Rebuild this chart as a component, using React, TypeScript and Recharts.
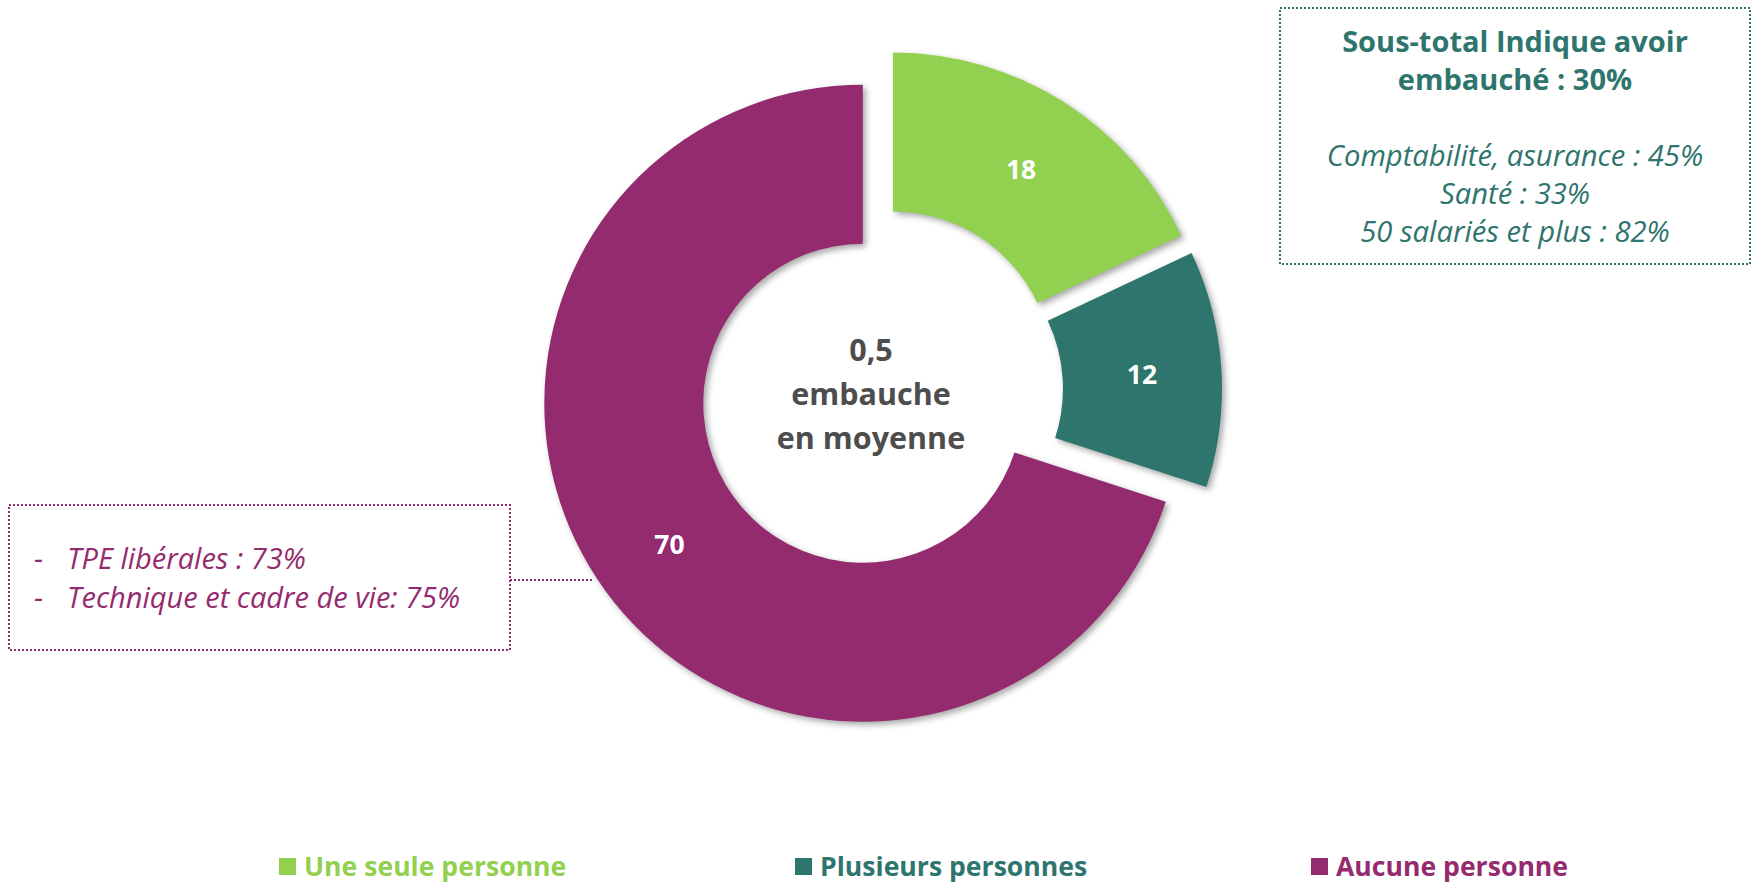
import React from 'react';
import { PieChart, Pie, Cell, Sector, Legend } from 'recharts';

const categories = ['Une seule personne', 'Plusieurs personnes', 'Aucune personne'];
const values = [18, 12, 70];
const colors = ['#92D050', '#2E756D', '#952B6F'];
const centerLines = ['0,5', 'embauche', 'en moyenne'];
const rightBoxTitle = ['Sous-total Indique avoir', 'embauché : 30%'];
const rightBoxItems = ['Comptabilité, asurance : 45%', 'Santé : 33%', '50 salariés et plus : 82%'];
const leftBoxItems = ['TPE libérales : 73%', 'Technique et cadre de vie: 75%'];

const data = categories.map((name, i) => ({ name, value: values[i] }));

const FONT = "'Open Sans', sans-serif";
const EXPLODE = 22.5;
const RAD = Math.PI / 180;
const TEAL_TEXT = '#2E756D';
const PURPLE_TEXT = '#952B6F';
const GRAY = '#4D4D4D';

const ExplodedSector = (props: any) => {
  const { cx, cy, midAngle } = props;
  const dx = EXPLODE * Math.cos(-midAngle * RAD);
  const dy = EXPLODE * Math.sin(-midAngle * RAD);
  return (
    <Sector
      {...props}
      cx={cx + dx}
      cy={cy + dy}
      stroke="none"
      style={{ filter: 'drop-shadow(3px 3px 3px rgba(0,0,0,0.35))' }}
    />
  );
};

const renderLabel = (p: any) => {
  const r = (p.innerRadius + p.outerRadius) / 2 + EXPLODE;
  const x = p.cx + r * Math.cos(-p.midAngle * RAD);
  const y = p.cy + r * Math.sin(-p.midAngle * RAD);
  return (
    <text
      x={x}
      y={y}
      fill="#fff"
      textAnchor="middle"
      dominantBaseline="central"
      fontWeight={700}
      fontSize={26.5}
      fontFamily={FONT}
    >
      {p.value}
    </text>
  );
};

const renderLegend = (props: any) => {
  const payload = [...(props.payload || [])].sort(
    (a: any, b: any) => categories.indexOf(a.value) - categories.indexOf(b.value)
  );
  return (
    <div style={{ display: 'flex', fontFamily: FONT }}>
      {payload.map((e: any, i: number) => {
        const idx = categories.indexOf(e.value);
        const c = idx >= 0 ? colors[idx] : e.color;
        return (
          <div key={i} style={{ width: 516, display: 'flex', alignItems: 'center', lineHeight: '35px' }}>
            <span style={{ display: 'inline-block', width: 17, height: 17, background: c, marginRight: 8 }} />
            <span style={{ color: c, fontWeight: 700, fontSize: 26.6 }}>{e.value}</span>
          </div>
        );
      })}
    </div>
  );
};

export default function App() {
  return (
    <div style={{ position: 'absolute', left: 0, top: 0, width: 1756, height: 884, background: '#fff', fontFamily: FONT }}>
      <PieChart width={1756} height={884} margin={{ top: 0, right: 0, bottom: 0, left: 0 }}>
        <Pie
          data={data}
          dataKey="value"
          nameKey="name"
          cx={881}
          cy={390}
          innerRadius={159.5}
          outerRadius={318.5}
          startAngle={90}
          endAngle={-270}
          stroke="none"
          isAnimationActive={false}
          shape={ExplodedSector}
          activeShape={ExplodedSector}
          inactiveShape={ExplodedSector}
          label={renderLabel}
          labelLine={false}
        >
          {data.map((d, i) => (
            <Cell key={d.name} fill={colors[i]} />
          ))}
        </Pie>
        <Legend
          content={renderLegend}
          wrapperStyle={{ position: 'absolute', left: 279, top: 849, width: 1560, height: 35 }}
        />
      </PieChart>
      <svg
        width={1756}
        height={884}
        style={{ position: 'absolute', left: 0, top: 0, pointerEvents: 'none' }}
      >
        <rect x={1280} y={8} width={470} height={256} fill="none" stroke={TEAL_TEXT} strokeWidth={2} strokeDasharray="2 2" />
        {rightBoxTitle.map((t, i) => (
          <text key={t} x={1515} y={52 + i * 38} textAnchor="middle" fill={TEAL_TEXT} fontFamily={FONT} fontWeight={700} fontSize={29}>
            {t}
          </text>
        ))}
        {rightBoxItems.map((t, i) => (
          <text key={t} x={1515} y={166 + i * 38} textAnchor="middle" fill={TEAL_TEXT} fontFamily={FONT} fontStyle="italic" fontSize={29.2}>
            {t}
          </text>
        ))}
        <rect x={9} y={505} width={501} height={145} fill="none" stroke={PURPLE_TEXT} strokeWidth={2} strokeDasharray="2 2" />
        <line x1={510} y1={580} x2={594} y2={580} stroke={PURPLE_TEXT} strokeWidth={2} strokeDasharray="2 2" />
        {leftBoxItems.map((t, i) => (
          <g key={t}>
            <text x={34} y={569 + i * 39} fill={PURPLE_TEXT} fontFamily={FONT} fontStyle="italic" fontSize={29}>-</text>
            <text x={67} y={569 + i * 39} fill={PURPLE_TEXT} fontFamily={FONT} fontStyle="italic" fontSize={29}>{t}</text>
          </g>
        ))}
        {centerLines.map((t, i) => (
          <text key={t} x={871} y={361 + i * 44} textAnchor="middle" fill={GRAY} fontFamily={FONT} fontWeight={700} fontSize={30.5}>
            {t}
          </text>
        ))}
      </svg>
    </div>
  );
}
